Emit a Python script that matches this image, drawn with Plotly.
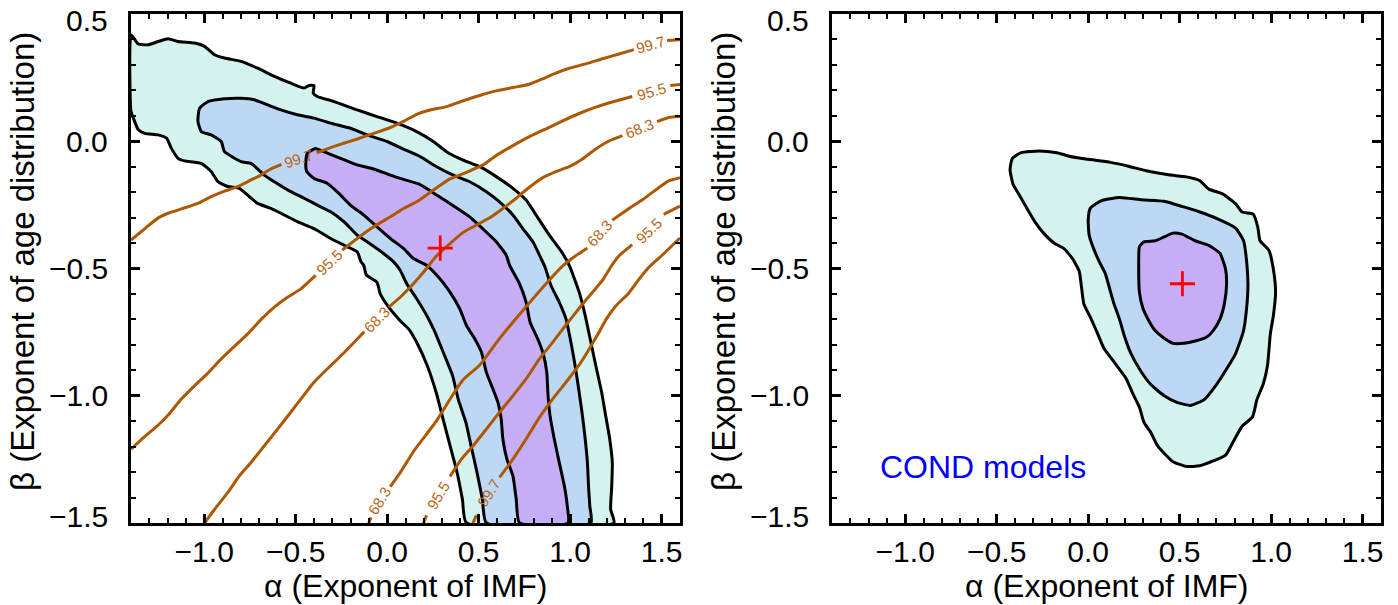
import math
import plotly.graph_objects as go

# ---------------- data ----------------
# Left panel: confidence regions (alpha, beta outlines)
left_997_alpha = [-1.4, -1.360, -1.306, -1.251, -1.197, -1.143, -1.052, -0.998, -0.943, -0.889, -0.799, -0.708,
                  -0.617, -0.527, -0.454, -0.427, -0.400, -0.404, -0.382, -0.291, -0.164, -0.056, 0.053, 0.161,
                  0.252, 0.324, 0.415, 0.506, 0.596, 0.687, 0.759, 0.814, 0.886, 0.959, 0.995, 1.049, 1.082,
                  1.113, 1.140, 1.172, 1.194, 1.216, 1.230, 1.227, 1.221, 1.239, 0.433, 0.411, 0.382, 0.346,
                  0.310, 0.270, 0.219, 0.161, 0.120, 0.071, 0.008, -0.038, -0.056, -0.114, -0.128, -0.143,
                  -0.164, -0.237, -0.309, -0.400, -0.491, -0.581, -0.636, -0.708, -0.753, -0.808, -0.871,
                  -0.925, -0.962, -1.016, -1.107, -1.143, -1.179, -1.206, -1.251, -1.324, -1.360, -1.387, -1.4]
left_997_beta = [0.419, 0.382, 0.379, 0.392, 0.403, 0.392, 0.386, 0.373, 0.340, 0.327, 0.314, 0.287,
                 0.255, 0.228, 0.209, 0.219, 0.219, 0.189, 0.176, 0.156, 0.123, 0.097, 0.071, 0.038,
                 -0.001, -0.041, -0.074, -0.100, -0.139, -0.185, -0.231, -0.290, -0.369, -0.441, -0.488, -0.593, -0.685,
                 -0.790, -0.882, -0.987, -1.079, -1.170, -1.262, -1.354, -1.446, -1.5, -1.5, -1.407, -1.302, -1.203,
                 -1.105, -0.993, -0.882, -0.790, -0.740, -0.705, -0.652, -0.600, -0.554, -0.525, -0.488, -0.474,
                 -0.434, -0.408, -0.382, -0.343, -0.316, -0.283, -0.264, -0.244, -0.218, -0.185, -0.178,
                 -0.159, -0.119, -0.087, -0.077, -0.067, -0.028, 0.012, 0.025, 0.031, 0.045, 0.091, 0.117]

left_955_alpha = [-1.034, -1.025, -0.980, -0.889, -0.799, -0.726, -0.654, -0.581, -0.491, -0.400, -0.309, -0.201,
                  -0.110, -0.001, 0.089, 0.180, 0.270, 0.361, 0.451, 0.542, 0.614, 0.687, 0.741, 0.796, 0.841,
                  0.863, 0.895, 0.940, 0.977, 1.004, 1.027, 1.049, 1.067, 1.082, 1.094, 1.100, 1.107, 1.113,
                  0.542, 0.520, 0.491, 0.460, 0.430, 0.388, 0.357, 0.306, 0.261, 0.216, 0.161, 0.107, 0.071,
                  0.035, -0.020, -0.110, -0.164, -0.237, -0.309, -0.382, -0.454, -0.527, -0.617, -0.672,
                  -0.744, -0.799, -0.889, -0.907, -0.962, -1.016, -1.034]
left_955_beta = [0.091, 0.130, 0.156, 0.167, 0.169, 0.163, 0.143, 0.123, 0.104, 0.091, 0.071, 0.051,
                 0.025, -0.001, -0.031, -0.060, -0.100, -0.133, -0.159, -0.198, -0.238, -0.290, -0.343, -0.395, -0.461,
                 -0.495, -0.567, -0.632, -0.698, -0.790, -0.882, -0.987, -1.079, -1.170, -1.262, -1.354, -1.433, -1.5,
                 -1.5, -1.407, -1.302, -1.203, -1.105, -1.013, -0.921, -0.829, -0.750, -0.685, -0.619, -0.560, -0.507,
                 -0.474, -0.441, -0.395, -0.369, -0.316, -0.277, -0.251, -0.224, -0.198, -0.159, -0.133,
                 -0.087, -0.080, -0.041, -0.001, 0.025, 0.038, 0.077]

left_683_alpha = [-0.445, -0.436, -0.391, -0.346, -0.255, -0.164, -0.074, 0.017, 0.089, 0.180, 0.270, 0.361,
                  0.451, 0.524, 0.596, 0.651, 0.669, 0.719, 0.759, 0.781, 0.823, 0.853, 0.872, 0.879, 0.890,
                  0.913, 0.940, 0.968, 0.984, 0.988, 0.723, 0.705, 0.687, 0.654, 0.632, 0.623, 0.605, 0.578,
                  0.542, 0.515, 0.479, 0.433, 0.397, 0.343, 0.288, 0.216, 0.143, 0.089, 0.017, -0.056, -0.128,
                  -0.201, -0.264, -0.328, -0.400, -0.440]
left_683_beta = [-0.087, -0.047, -0.028, -0.041, -0.067, -0.093, -0.109, -0.133, -0.150, -0.170, -0.211, -0.253,
                 -0.297, -0.345, -0.395, -0.448, -0.488, -0.554, -0.632, -0.711, -0.777, -0.836, -0.908, -1.000, -1.079,
                 -1.170, -1.262, -1.354, -1.433, -1.5, -1.5, -1.407, -1.315, -1.249, -1.170, -1.092, -1.026, -0.974,
                 -0.908, -0.829, -0.777, -0.724, -0.659, -0.593, -0.540, -0.488, -0.461, -0.421, -0.382, -0.336, -0.290,
                 -0.251, -0.205, -0.165, -0.146, -0.119]

# Left panel: brown constraint contours (None = gap left for the label)
lineA_alpha = [-1.4, -1.324, -1.251, -1.197, -1.125, -1.034, -0.962, -0.889, -0.817, -0.744, -0.690, -0.636, -0.578,
               None, -0.386, -0.309, -0.237, -0.164, -0.074, 0.017, 0.089, 0.161, 0.234, 0.324, 0.415, 0.506, 0.596,
               0.687, 0.777, 0.850, 0.922, 0.995, 1.085, 1.176, 1.267, 1.348, None, 1.529, 1.6]
lineA_beta = [-0.388, -0.343, -0.301, -0.283, -0.266, -0.244, -0.218, -0.196, -0.178, -0.152, -0.133, -0.109, -0.091,
              None, -0.046, -0.025, -0.008, 0.009, 0.031, 0.054, 0.078, 0.106, 0.123, 0.136, 0.159, 0.180, 0.198,
              0.211, 0.224, 0.245, 0.268, 0.287, 0.304, 0.324, 0.343, 0.360, None, 0.396, 0.399]
lineB_alpha = [-1.4, -1.324, -1.251, -1.197, -1.125, -1.052, -0.980, -0.907, -0.835, -0.762, -0.690, -0.617, -0.545,
               -0.472, -0.391, None, -0.246, -0.164, -0.074, 0.017, 0.089, 0.161, 0.252, 0.343, 0.433, 0.524, 0.596,
               0.687, 0.777, 0.868, 0.959, 1.049, 1.140, 1.230, 1.339, None, 1.547, 1.6]
lineB_beta = [-1.210, -1.160, -1.115, -1.076, -1.013, -0.960, -0.911, -0.855, -0.806, -0.757, -0.701, -0.652, -0.613,
              -0.580, -0.527, None, -0.428, -0.382, -0.336, -0.297, -0.264, -0.238, -0.192, -0.148, -0.122, -0.093, -0.056,
              -0.017, 0.018, 0.049, 0.080, 0.109, 0.134, 0.154, 0.176, None, 0.219, 0.223]
lineC_alpha = [-0.998, -0.943, -0.871, -0.808, -0.744, -0.672, -0.599, -0.527, -0.472, -0.400, -0.328, -0.255, -0.183,
               -0.125, None, 0.008, 0.071, 0.143, 0.198, 0.270, 0.343, 0.415, 0.488, 0.560, 0.632, 0.705, 0.777, 0.850,
               0.922, 0.995, 1.067, 1.140, 1.212, 1.285, None, 1.475, 1.538, 1.6]
lineC_beta = [-1.5, -1.446, -1.380, -1.315, -1.262, -1.197, -1.131, -1.065, -1.013, -0.947, -0.895, -0.845, -0.792,
              -0.748, None, -0.652, -0.613, -0.560, -0.515, -0.450, -0.402, -0.358, -0.329, -0.301, -0.264, -0.224, -0.181, -0.143,
              -0.119, -0.100, -0.070, -0.030, 0.001, 0.022, None, 0.077, 0.093, 0.097]
lineD_alpha = [-0.101, -0.088, None, 0.017, 0.071, 0.143, 0.180, 0.270, 0.361, 0.415, 0.506, 0.596, 0.687, 0.777,
               0.868, 0.959, 1.030, 1.094, None, 1.230, 1.321, 1.393, 1.466, 1.538, 1.6]
lineD_beta = [-1.5, -1.478, None, -1.357, -1.302, -1.220, -1.184, -1.098, -0.993, -0.937, -0.879, -0.792, -0.711, -0.635,
              -0.560, -0.490, -0.450, -0.419, None, -0.310, -0.264, -0.231, -0.192, -0.156, -0.143]
lineE_alpha = [0.198, 0.215, None, 0.343, 0.406, 0.469, 0.542, 0.614, 0.687, 0.759, 0.832, 0.904, 0.977, 1.049, 1.122,
               1.176, 1.230, 1.267, 1.339, None, 1.511, 1.6]
lineE_beta = [-1.5, -1.47, None, -1.317, -1.249, -1.197, -1.131, -1.065, -1.000, -0.934, -0.855, -0.790, -0.722, -0.656,
              -0.593, -0.547, -0.485, -0.450, -0.406, None, -0.287, -0.255]
lineF_alpha = [0.469, 0.487, None, 0.614, 0.687, 0.759, 0.832, 0.904, 0.977, 1.049, 1.104, 1.158, 1.198, 1.248, 1.321,
               1.375, 1.430, 1.502, 1.6]
lineF_beta = [-1.5, -1.47, None, -1.321, -1.249, -1.170, -1.085, -1.013, -0.947, -0.879, -0.816, -0.750, -0.698, -0.648,
              -0.596, -0.543, -0.495, -0.448, -0.380]

# contour labels: text, position, and which line/gap they sit in
label_text = ["99.7", "99.7", "95.5", "95.5", "68.3", "68.3", "68.3", "68.3", "95.5", "95.5", "99.7"]
label_alpha = [-0.482, 1.439, -0.318, 1.443, -0.058, 1.378, -0.041, 1.158, 0.279, 1.430, 0.556]
label_beta = [-0.068, 0.379, -0.477, 0.196, -0.700, 0.049, -1.413, -0.362, -1.393, -0.349, -1.380]
label_line = ["A", "A", "B", "B", "C", "C", "D", "D", "E", "E", "F"]
label_gap = [0, 1, 0, 1, 0, 1, 0, 1, 0, 1, 0]

left_best_alpha = [0.29]
left_best_beta = [-0.42]

# Right panel (COND models)
right_997_alpha = [-0.427, -0.415, -0.366, -0.268, -0.171, -0.098, 0.0, 0.122, 0.220, 0.317, 0.439, 0.537, 0.610,
                   0.659, 0.732, 0.805, 0.841, 0.902, 0.927, 0.939, 0.988, 1.012, 1.024, 1.012, 0.995, 0.980,
                   0.956, 0.922, 0.898, 0.841, 0.793, 0.751, 0.683, 0.610, 0.537, 0.463, 0.415, 0.378, 0.341,
                   0.305, 0.280, 0.244, 0.207, 0.146, 0.085, 0.049, 0.012, -0.024, -0.037, -0.049, -0.085,
                   -0.134, -0.183, -0.244, -0.288, -0.329, -0.371, -0.410]
right_997_beta = [-0.113, -0.068, -0.045, -0.038, -0.045, -0.060, -0.071, -0.083, -0.098, -0.116, -0.132, -0.140, -0.155,
                  -0.188, -0.206, -0.245, -0.278, -0.286, -0.338, -0.391, -0.429, -0.504, -0.594, -0.684, -0.759, -0.880,
                  -0.955, -1.015, -1.083, -1.120, -1.180, -1.233, -1.256, -1.275, -1.278, -1.259, -1.226, -1.195, -1.143,
                  -1.105, -1.045, -0.992, -0.932, -0.872, -0.812, -0.752, -0.692, -0.639, -0.571, -0.511, -0.462,
                  -0.421, -0.402, -0.361, -0.320, -0.271, -0.218, -0.170]
right_955_alpha = [0.0, 0.012, 0.073, 0.171, 0.293, 0.415, 0.512, 0.610, 0.707, 0.805, 0.849, 0.866, 0.873, 0.866,
                   0.849, 0.805, 0.756, 0.702, 0.634, 0.561, 0.488, 0.415, 0.341, 0.280, 0.232, 0.195, 0.171,
                   0.141, 0.117, 0.093, 0.061, 0.029, 0.005]
right_955_beta = [-0.308, -0.263, -0.233, -0.221, -0.230, -0.236, -0.256, -0.278, -0.305, -0.341, -0.391, -0.474, -0.564,
                  -0.654, -0.744, -0.835, -0.895, -0.955, -1.015, -1.038, -1.027, -1.000, -0.955, -0.895, -0.832, -0.759,
                  -0.699, -0.639, -0.579, -0.519, -0.474, -0.421, -0.368]
right_683_alpha = [0.280, 0.305, 0.366, 0.415, 0.463, 0.512, 0.585, 0.659, 0.720, 0.751, 0.756, 0.744, 0.720, 0.683,
                   0.646, 0.585, 0.524, 0.463, 0.415, 0.366, 0.329, 0.298, 0.280, 0.276]
right_683_beta = [-0.414, -0.395, -0.391, -0.376, -0.361, -0.365, -0.391, -0.409, -0.441, -0.504, -0.564, -0.639, -0.699,
                  -0.744, -0.770, -0.785, -0.794, -0.794, -0.774, -0.744, -0.702, -0.654, -0.594, -0.504]
right_best_alpha = [0.515]
right_best_beta = [-0.56]

x_range = [-1.4, 1.6]
y_range = [-1.5, 0.5]
y_tick_values = [0.5, 0.0, -0.5, -1.0, -1.5]
x_title = "α (Exponent of IMF)"
y_title = "β (Exponent of age distribution)"
panel_note = "COND models"
panel_note_alpha, panel_note_beta = -0.575, -1.28

# ---------------- styling / layout ----------------
W, H = 1398, 605
L1, R1 = 131, 680
L2, R2 = 832, 1381
TOP, BOT = 14, 523
C_OUT, C_MID, C_IN = "#D5F3EE", "#BDD8F5", "#C5AEF5"
BROWN = "#AD5800"
FONT = "Liberation Sans, Arial, Helvetica, sans-serif"

fig = go.Figure()


def add_region(ax, ay, color, xa, ya):
    fig.add_trace(go.Scatter(x=ax + [ax[0]], y=ay + [ay[0]], mode="lines", fill="toself",
                             fillcolor=color, line=dict(color="black", width=3, shape="spline", smoothing=0.5),
                             xaxis=xa, yaxis=ya, hoverinfo="skip", showlegend=False))


add_region(left_997_alpha, left_997_beta, C_OUT, "x", "y")
add_region(left_955_alpha, left_955_beta, C_MID, "x", "y")
add_region(left_683_alpha, left_683_beta, C_IN, "x", "y")

lines = {"A": (lineA_alpha, lineA_beta), "B": (lineB_alpha, lineB_beta), "C": (lineC_alpha, lineC_beta),
         "D": (lineD_alpha, lineD_beta), "E": (lineE_alpha, lineE_beta), "F": (lineF_alpha, lineF_beta)}
for key, (la, lb) in lines.items():
    fig.add_trace(go.Scatter(x=la, y=lb, mode="lines",
                             line=dict(color=BROWN, width=3, shape="spline", smoothing=0.5),
                             connectgaps=False, xaxis="x", yaxis="y", hoverinfo="skip", showlegend=False))

add_region(right_997_alpha, right_997_beta, C_OUT, "x2", "y2")
add_region(right_955_alpha, right_955_beta, C_MID, "x2", "y2")
add_region(right_683_alpha, right_683_beta, C_IN, "x2", "y2")

for bx, by, xa, ya in [(left_best_alpha, left_best_beta, "x", "y"), (right_best_alpha, right_best_beta, "x2", "y2")]:
    fig.add_trace(go.Scatter(x=bx, y=by, mode="markers",
                             marker=dict(symbol="cross-thin", size=18, line=dict(color="red", width=2.8)),
                             xaxis=xa, yaxis=ya, hoverinfo="skip", showlegend=False))

# pixel scale for label rotation
px_a = (R1 - L1) / (x_range[1] - x_range[0])
px_b = (BOT - TOP) / (y_range[1] - y_range[0])

annotations = []
for txt, a, b, ln, g in zip(label_text, label_alpha, label_beta, label_line, label_gap):
    la, lb = lines[ln]
    gaps = [i for i, v in enumerate(la) if v is None]
    gi = gaps[g]
    a0, b0 = la[gi - 1], lb[gi - 1]
    a1, b1 = la[gi + 1], lb[gi + 1]
    ang = -math.degrees(math.atan2((b1 - b0) * px_b, (a1 - a0) * px_a))
    annotations.append(dict(x=a, y=b, xref="x", yref="y", text=txt, showarrow=False, textangle=ang,
                            font=dict(family=FONT, size=15, color="#B8661A"), xanchor="center", yanchor="middle"))

annotations.append(dict(x=panel_note_alpha, y=panel_note_beta, xref="x2", yref="y2", text=panel_note,
                        showarrow=False, font=dict(family=FONT, size=32, color="#0000FF"),
                        xanchor="center", yanchor="middle"))

for (l, r), yr in [((L1, R1), "y"), ((L2, R2), "y2")]:
    annotations.append(dict(x=((l + r) / 2) / W, y=(H - 586) / H, xref="paper", yref="paper", text=x_title,
                            showarrow=False, font=dict(family=FONT, size=32, color="black"),
                            xanchor="center", yanchor="middle"))
    annotations.append(dict(x=(l - 109) / W, y=(H - 262) / H, xref="paper", yref="paper", text=y_title,
                            showarrow=False, textangle=-90, font=dict(family=FONT, size=33, color="black"),
                            xanchor="center", yanchor="middle"))
    # y tick labels (end labels nudged inside the frame, as in the reference)
    for v in y_tick_values:
        shift = -7 if v == y_range[1] else (7 if v == y_range[0] else 0)
        annotations.append(dict(x=(l - 21) / W, y=v, xref="paper", yref=yr, text=f"{v:.1f}".replace("-", "−"),
                                showarrow=False, font=dict(family=FONT, size=30, color="black"),
                                xanchor="right", yanchor="middle", yshift=shift))

axis_common = dict(showline=True, linewidth=3.2, linecolor="black", mirror="allticks", ticks="inside",
                   ticklen=9, tickwidth=2.6, tickcolor="black", showgrid=False, zeroline=False,
                   tickformat=".1f", dtick=0.5, tick0=0, ticklabeloverflow="allow",
                   tickfont=dict(family=FONT, size=30, color="black"),
                   minor=dict(ticks="inside", ticklen=5, tickwidth=2.2, dtick=0.1, tickcolor="black", showgrid=False))

ydom = [(H - BOT) / H, (H - TOP) / H]
fig.update_layout(
    width=W, height=H, margin=dict(l=0, r=0, t=0, b=0, autoexpand=False),
    paper_bgcolor="white", plot_bgcolor="white", showlegend=False,
    xaxis=dict(axis_common, range=x_range, domain=[L1 / W, R1 / W], anchor="y", ticklabelstandoff=0),
    yaxis=dict(axis_common, range=y_range, domain=ydom, anchor="x", showticklabels=False),
    xaxis2=dict(axis_common, range=x_range, domain=[L2 / W, R2 / W], anchor="y2", ticklabelstandoff=0),
    yaxis2=dict(axis_common, range=y_range, domain=ydom, anchor="x2", showticklabels=False),
    annotations=annotations,
)

fig.write_html("out.html", config={"displayModeBar": False},
               post_script="document.body.style.margin='0px';document.body.style.overflow='hidden';")
